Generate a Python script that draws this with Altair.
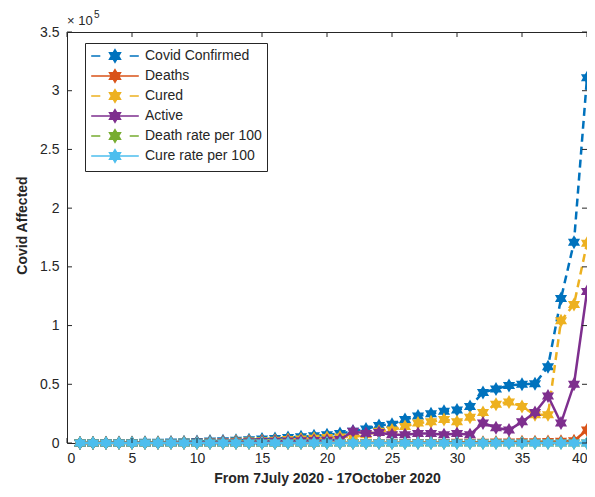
import math
import altair as alt
import pandas as pd

# ---------------- data ----------------
days = list(range(1, 41))

confirmed = [100, 200, 300, 400, 500, 600, 700, 900, 1100, 1300,
             1600, 1900, 2300, 2800, 3300, 3900, 4600, 5300, 6100, 7000,
             8000, 10000, 12000, 15000, 16000, 20000, 23000, 25000, 27000, 28000,
             31000, 43000, 46000, 49000, 50000, 50500, 65000, 123000, 171000, 311000]

deaths = [2, 4, 6, 8, 10, 12, 15, 18, 22, 26,
          30, 35, 40, 50, 60, 70, 80, 90, 100, 120,
          140, 170, 200, 250, 300, 350, 400, 450, 500, 550,
          600, 700, 800, 900, 1000, 1100, 1300, 1500, 2000, 11000]

cured = [50, 100, 150, 200, 250, 300, 400, 500, 600, 700,
         900, 1100, 1400, 1700, 2000, 2400, 2900, 3400, 4000, 4600,
         5200, 5000, 7000, 10000, 11000, 14000, 17000, 18000, 20000, 18000,
         22000, 26000, 33000, 35000, 31000, 24000, 24000, 104000, 118000, 170000]

active = [50, 100, 150, 200, 250, 300, 300, 400, 500, 600,
          700, 800, 900, 1100, 1300, 1500, 1700, 1900, 2100, 2400,
          3000, 10000, 8000, 9000, 7000, 7000, 8000, 8000, 7000, 8000,
          7000, 17000, 13000, 11000, 18000, 26000, 40000, 17000, 50000, 129000]

death_rate = [2.0, 2.0, 2.0, 2.0, 2.0, 2.0, 2.1, 2.0, 2.0, 2.0,
              1.9, 1.8, 1.7, 1.8, 1.8, 1.8, 1.7, 1.7, 1.6, 1.7,
              1.8, 1.7, 1.7, 1.7, 1.9, 1.8, 1.7, 1.8, 1.9, 2.0,
              1.9, 1.6, 1.7, 1.8, 2.0, 2.2, 2.0, 1.2, 1.2, 3.5]

cure_rate = [50, 50, 50, 50, 50, 50, 57, 56, 55, 54,
             56, 58, 61, 61, 61, 62, 63, 64, 66, 66,
             65, 50, 58, 67, 69, 70, 74, 72, 74, 64,
             71, 60, 72, 71, 62, 48, 37, 85, 69, 55]

series_names = ["Covid Confirmed", "Deaths", "Cured", "Active",
                "Death rate per 100", "Cure rate per 100"]
series_values = [confirmed, deaths, cured, active, death_rate, cure_rate]
series_colors = ["#0072BD", "#D95319", "#EDB120", "#7E2F8E", "#77AC30", "#4DBEEE"]
series_dashed = [True, False, True, False, True, False]

x_ticks = [0, 5, 10, 15, 20, 25, 30, 35, 40]
y_ticks = [0, 50000, 100000, 150000, 200000, 250000, 300000, 350000]

x_title = "From 7July 2020 - 17October 2020"
y_title = "Covid Affected"

# ---------------- build tables ----------------
rows = []
for name, vals in zip(series_names, series_values):
    for d, v in zip(days, vals):
        rows.append({"day": d, "value": v, "series": name})
df = pd.DataFrame(rows)

# ---------------- shapes ----------------
def hexagram(r=1.0, cx=0.0):
    pts = []
    for k in range(12):
        ang = math.radians(90 + 30 * k)
        rr = r if k % 2 == 0 else r / math.sqrt(3)
        pts.append((cx + rr * math.cos(ang), -rr * math.sin(ang)))
    return "M" + "L".join(f"{x:.3f},{y:.3f}" for x, y in pts) + "Z"

STAR = hexagram(1.0)
LEG_STAR = hexagram(0.9)
leg_paths = []
for d in series_dashed:
    if d:
        line = "M-3.4,0L-2.1,0M2.1,0L3.4,0"
    else:
        line = "M-3.4,0L3.4,0"
    leg_paths.append(line + LEG_STAR)

W, H = 520, 411
FONT = "Liberation Sans"
AX = "#262626"

xscale = alt.Scale(domain=[0, 40], nice=False, zero=False)
yscale = alt.Scale(domain=[0, 350000], nice=False)

x_axis = alt.Axis(values=x_ticks, title=x_title, domain=False, ticks=False, grid=False,
                  labelFontSize=14, labelPadding=8, titleFontSize=14, titleFontWeight="bold",
                  titlePadding=6, labelFont=FONT, titleFont=FONT, labelColor=AX, titleColor=AX)
y_axis = alt.Axis(values=y_ticks, title=y_title, domain=False, ticks=False, grid=False,
                  labelExpr="format(datum.value/100000, '~g')",
                  labelFontSize=14, labelPadding=8, titleFontSize=14, titleFontWeight="bold",
                  titlePadding=10, titleY=193,
                  labelFont=FONT, titleFont=FONT, labelColor=AX, titleColor=AX)

X = alt.X("day:Q", scale=xscale, axis=x_axis)
Y = alt.Y("value:Q", scale=yscale, axis=y_axis)

layers = []
for name, col, dash in zip(series_names, series_colors, series_dashed):
    base = alt.Chart(df).transform_filter(alt.datum.series == name)
    if dash:
        ln = base.mark_line(color=col, strokeWidth=2.5, strokeDash=[8, 5])
    else:
        ln = base.mark_line(color=col, strokeWidth=2.5)
    layers.append(ln.encode(x=X, y=Y))
    layers.append(base.mark_point(shape=STAR, filled=True, size=196, color=col, opacity=1)
                  .encode(x=X, y=Y))

legend = alt.Legend(title=None, orient="none", legendX=18, legendY=11,
                    padding=5, fillColor="white", strokeColor=AX,
                    labelFont=FONT, labelFontSize=14, labelColor=AX,
                    symbolSize=196, symbolOffset=17, labelOffset=22,
                    rowPadding=0, symbolStrokeWidth=1.5,
                    labelExpr="datum.label + '    '")

leg_layer = alt.Chart(df).transform_filter("false").mark_point(filled=True, opacity=1).encode(
    x=X, y=Y,
    fill=alt.Fill("series:N", scale=alt.Scale(domain=series_names, range=series_colors), legend=legend),
    stroke=alt.Stroke("series:N", scale=alt.Scale(domain=series_names, range=series_colors), legend=legend),
    shape=alt.Shape("series:N", scale=alt.Scale(domain=series_names, range=leg_paths), legend=legend),
)
layers.append(leg_layer)

# inward ticks (MATLAB style)
xt = pd.DataFrame({"day": x_ticks})
yt = pd.DataFrame({"value": y_ticks})
layers.append(alt.Chart(xt).mark_rule(color=AX, strokeWidth=1).encode(x=X, y=alt.value(H), y2=alt.value(H - 5)))
layers.append(alt.Chart(xt).mark_rule(color=AX, strokeWidth=1).encode(x=X, y=alt.value(0), y2=alt.value(5)))
layers.append(alt.Chart(yt).mark_rule(color=AX, strokeWidth=1).encode(y=Y, x=alt.value(0), x2=alt.value(5)))
layers.append(alt.Chart(yt).mark_rule(color=AX, strokeWidth=1).encode(y=Y, x=alt.value(W), x2=alt.value(W - 5)))

# exponent label
exp_base = pd.DataFrame({"t": ["\u00d7 10"]})
exp_pow = pd.DataFrame({"t": ["5"]})
layers.append(alt.Chart(exp_base).mark_text(align="left", baseline="alphabetic", font=FONT,
                                            fontSize=13, color=AX)
              .encode(x=alt.value(0), y=alt.value(-7), text="t:N"))
layers.append(alt.Chart(exp_pow).mark_text(align="left", baseline="alphabetic", font=FONT,
                                           fontSize=10, color=AX)
              .encode(x=alt.value(27), y=alt.value(-14), text="t:N"))

chart = alt.layer(*layers).properties(
    width=W, height=H,
    autosize=alt.AutoSizeParams(type="none"),
    padding={"left": 59, "top": 24, "right": 0, "bottom": 46},
    background="white",
).configure_view(stroke=AX, strokeWidth=1)

chart.save("out.html", embed_options={"renderer": "svg", "actions": False})
